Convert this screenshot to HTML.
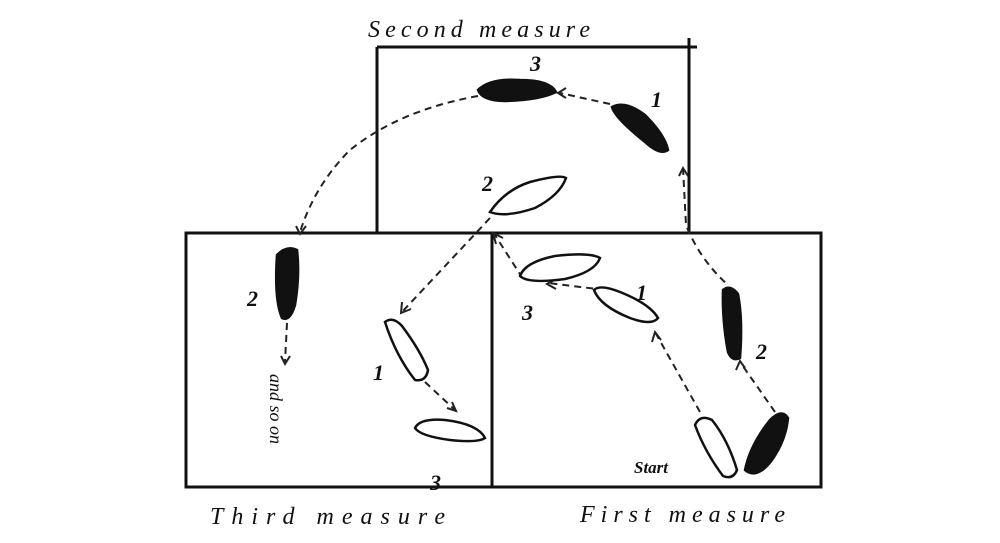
<!DOCTYPE html>
<html><head><meta charset="utf-8"><style>
html,body{margin:0;padding:0;background:#fff;}
svg{display:block;}
text{font-family:"Liberation Serif",serif;font-style:italic;fill:#111;}
</style></head><body>
<svg width="1000" height="543" viewBox="0 0 1000 543" xmlns="http://www.w3.org/2000/svg">
<g stroke="#111" stroke-width="3" fill="none">
<line x1="377" y1="47" x2="697" y2="47"/>
<line x1="377" y1="47" x2="377" y2="233"/>
<line x1="689" y1="38" x2="689" y2="233"/>
<rect x="186" y="233" width="635" height="254"/>
<line x1="492" y1="233" x2="492" y2="487"/>
</g>
<g stroke="#222" stroke-width="2" fill="none" stroke-dasharray="7,5">
<path d="M478 96 Q400 110 350 150 Q315 185 300 232"/>
<path d="M610 104 L560 93"/>
<path d="M683 168 L686 225 Q700 260 728 285"/>
<path d="M490 218 L402 312"/>
<path d="M493 232 L525 282"/>
<path d="M287 323 L285 362"/>
<path d="M425 382 L455 410"/>
<path d="M605 290 L548 283"/>
<path d="M700 412 L655 332"/>
<path d="M775 412 L740 362"/>
</g>
<g stroke="#222" stroke-width="2" fill="none">
<path d="M566 88 L558 93 L566 98"/>
<path d="M679 176 L683 168 L688 176"/>
<path d="M296 226 L300 234 L306 226"/>
<path d="M402 302 L401 313 L411 309"/>
<path d="M496 244 L493 233 L503 238"/>
<path d="M447 408 L456 411 L452 402"/>
<path d="M556 279 L547 284 L556 289"/>
<path d="M652 342 L655 332 L661 340"/>
<path d="M736 370 L740 361 L745 368"/>
<path d="M281 356 L285 364 L290 356"/>
</g>
<g stroke="#111" stroke-width="2.5">
<path d="M478 90 Q490 78 520 80 Q550 80 556 92 Q540 100 505 101 Q482 101 478 90Z" fill="#111"/>
<path d="M612 107 Q625 100 645 115 Q665 135 668 150 Q660 156 645 142 Q615 118 612 107Z" fill="#111"/>
<path d="M490 212 Q505 190 530 182 Q560 174 566 178 Q560 195 535 208 Q505 218 490 212Z" fill="#fff"/>
<path d="M277 255 Q287 245 297 250 Q300 275 295 305 Q290 322 282 318 Q274 300 277 255Z" fill="#111"/>
<path d="M385 322 Q393 316 402 326 Q420 350 428 370 Q426 382 415 380 Q396 356 385 322Z" fill="#fff"/>
<path d="M415 428 Q420 418 445 420 Q478 424 485 438 Q478 443 450 440 Q420 436 415 428Z" fill="#fff"/>
<path d="M520 276 Q525 262 555 256 Q590 252 600 258 Q595 272 565 279 Q528 284 520 276Z" fill="#fff"/>
<path d="M594 290 Q600 284 620 292 Q650 304 658 318 Q652 326 630 318 Q600 306 594 290Z" fill="#fff"/>
<path d="M723 290 Q730 284 738 294 Q743 320 740 358 Q732 362 728 352 Q722 320 723 290Z" fill="#111"/>
<path d="M695 425 Q700 414 712 420 Q728 440 737 470 Q733 480 723 476 Q705 452 695 425Z" fill="#fff"/>
<path d="M745 470 Q750 445 770 420 Q782 408 788 418 Q786 440 772 460 Q757 480 745 470Z" fill="#111"/>
</g>
<g font-size="22" font-weight="bold">
<text x="530" y="71">3</text>
<text x="651" y="107">1</text>
<text x="482" y="191">2</text>
<text x="247" y="306">2</text>
<text x="373" y="380">1</text>
<text x="430" y="490">3</text>
<text x="522" y="320">3</text>
<text x="636" y="300">1</text>
<text x="756" y="359">2</text>
<text x="634" y="473" font-size="17">Start</text>
</g>
<text x="270" y="374" font-size="18" transform="rotate(90 270 374)">and so on</text>
<text x="368" y="37" font-size="24" textLength="222" lengthAdjust="spacing">Second measure</text>
<text x="210" y="524" font-size="24" textLength="235" lengthAdjust="spacing">Third measure</text>
<text x="580" y="522" font-size="24" textLength="205" lengthAdjust="spacing">First measure</text>
</svg>
</body></html>
